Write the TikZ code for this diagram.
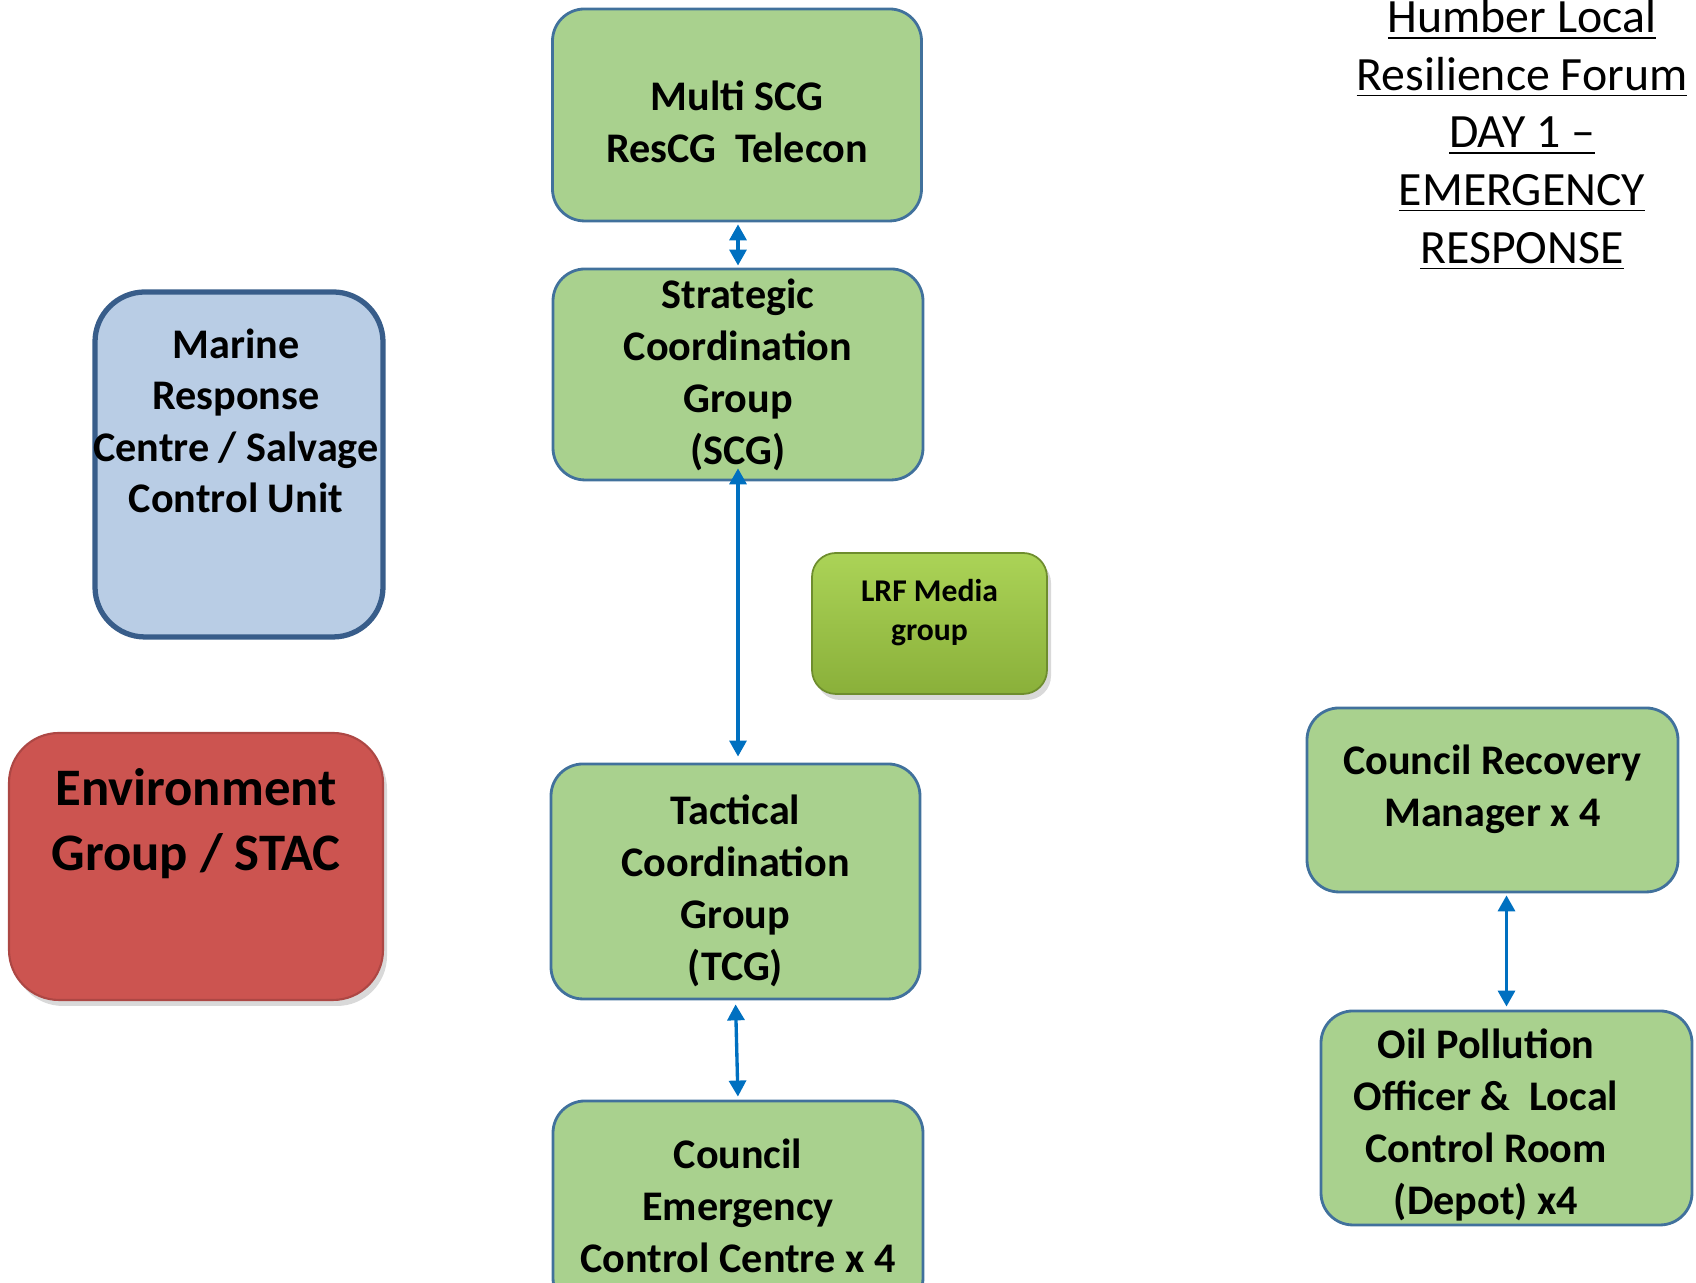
\documentclass[tikz,border=0pt]{standalone}
\usepackage{fontspec}
\setmainfont{Carlito}
\usepackage{xcolor}
\usepackage{tikz}
\usetikzlibrary{arrows.meta}
\usetikzlibrary{calc}
\usetikzlibrary{shadows}

\definecolor{groupgreen}{HTML}{A9D18E}
\definecolor{groupedge}{HTML}{41719C}
\definecolor{marineblue}{HTML}{B9CDE5}
\definecolor{marineedge}{HTML}{385D8A}
\definecolor{envred}{HTML}{CC5450}
\definecolor{mediatop}{HTML}{ABD357}
\definecolor{mediabottom}{HTML}{8AB03A}
\definecolor{linkblue}{HTML}{0070C0}

\tikzset{
  group/.style={draw=groupedge, line width=0.8pt, fill=groupgreen,
    rounded corners=0.32cm, minimum width=3.69cm, inner sep=0pt,
    align=center, font=\fontsize{12}{14.8}\selectfont\bfseries},
  boxtext/.style={align=center, inner sep=0pt},
  link/.style={draw=linkblue, line width=0.95pt,
    {Triangle[width=0.17cm,length=0.16cm]}-{Triangle[width=0.17cm,length=0.16cm]}},
}

\begin{document}
\begin{tikzpicture}

    \useasboundingbox (0, 0) rectangle (16.96, 12.83);
    \clip (0, 0) rectangle (16.96, 12.83);

    % side boxes
    \node [draw=marineedge, line width=1.5pt, fill=marineblue,
      rounded corners=0.5cm, minimum width=2.88cm, minimum height=3.45cm]
      (marine) at (2.39, 8.185) {};
    \node [boxtext, font=\fontsize{12}{14.6}\selectfont\bfseries]
      (marinetext) at (2.36, 8.62)
      {Marine\\Response\\Centre / Salvage\\Control Unit};

    \node [draw=envred!85!black, line width=0.6pt, fill=envred,
      rounded corners=0.5cm, minimum width=3.74cm, minimum height=2.67cm,
      drop shadow={opacity=0.3, shadow xshift=0.04cm, shadow yshift=-0.06cm}]
      (env) at (1.96, 4.165) {};
    \node [boxtext, font=\fontsize{15}{18.5}\selectfont\bfseries]
      (envtext) at (1.96, 4.59) {Environment\\Group / STAC};

    % command chain
    \node [group, minimum height=2.12cm] (multi) at (7.37, 11.68)
      {\rule{0pt}{12.1pt}Multi SCG\\ResCG\ \ Telecon};
    \node [group, minimum width=3.70cm, minimum height=2.11cm] (scg) at (7.38, 9.085)
      {Strategic\\Coordination\\Group\\(SCG)};
    \node [group, minimum height=2.35cm] (tcg) at (7.355, 4.015)
      {\rule{0pt}{14pt}Tactical\\Coordination\\Group\\(TCG)};
    \node [group, minimum width=3.70cm, minimum height=2.09cm] (cec) at (7.38, 0.775)
      {Council\\Emergency\\Control Centre x 4};

    \node [draw=mediabottom!80!black, line width=0.5pt,
      top color=mediatop, bottom color=mediabottom,
      rounded corners=0.24cm, minimum width=2.35cm, minimum height=1.41cm,
      align=center, font=\fontsize{9}{11.1}\selectfont\bfseries,
      drop shadow={opacity=0.3, shadow xshift=0.04cm, shadow yshift=-0.06cm}]
      (media) at (9.295, 6.595) {LRF Media\\group\\[-0.11cm]};

    % council side
    \node [group, minimum width=3.71cm, minimum height=1.84cm] (recovery) at (14.925, 4.83)
      {Council Recovery\\Manager x 4\\[-0.24cm]};
    \node [group, minimum width=3.71cm, minimum height=2.14cm] (oil) at (15.065, 1.65) {};
    \node [boxtext, font=\fontsize{12}{14.8}\selectfont\bfseries]
      (oiltext) at (14.86, 1.58)
      {Oil Pollution\\Officer \&\ \ Local\\Control Room\\(Depot) x4};

    \node [align=center, inner sep=0pt, font=\fontsize{13.6}{16.4}\selectfont]
      (title) at (15.22, 11.48)
      {\underline{Humber Local}\\\underline{Resilience Forum}\\\underline{DAY 1 --}\\
       \underline{EMERGENCY}\\\underline{RESPONSE}};

    \draw [link, shorten <=0.02cm, shorten >=0.02cm] (scg.north |- multi.south) -- (scg.north);
    \draw [link, shorten <=-0.13cm, shorten >=0.06cm] (scg.south) -- (scg.south |- tcg.north);
    \draw [link, shorten <=0.04cm, shorten >=0.03cm] (tcg.south) -- (cec.north);
    \draw [link, shorten <=0.02cm, shorten >=0.03cm] (oil.north |- recovery.south) -- (oil.north);

  \end{tikzpicture}
\end{document}
